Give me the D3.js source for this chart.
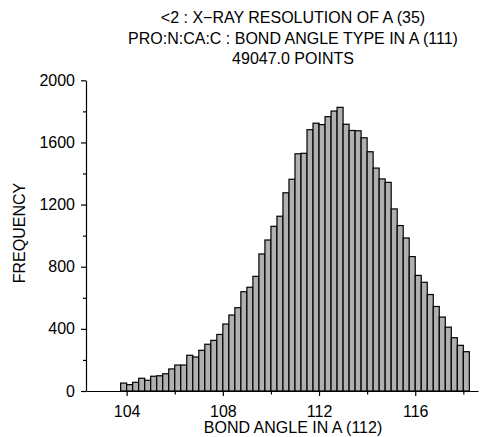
<!DOCTYPE html>
<html><head><meta charset="utf-8">
<script src="https://cdn.jsdelivr.net/npm/d3@7"></script>
<style>body{margin:0;background:#fff}svg{display:block}</style>
</head><body><svg id="c" width="499" height="437"></svg>
<script>
const titleLines = ["<2 : X\u2212RAY RESOLUTION OF A (35)", "PRO:N:CA:C : BOND ANGLE TYPE IN A (111)", "49047.0 POINTS"];
const xLabel = "BOND ANGLE IN A (112)";
const yLabel = "FREQUENCY";
const binWidth = 0.25;
const binStarts = [103.75,104.0,104.25,104.5,104.75,105.0,105.25,105.5,105.75,106.0,
  106.25,106.5,106.75,107.0,107.25,107.5,107.75,108.0,108.25,108.5,
  108.75,109.0,109.25,109.5,109.75,110.0,110.25,110.5,110.75,111.0,
  111.25,111.5,111.75,112.0,112.25,112.5,112.75,113.0,113.25,113.5,
  113.75,114.0,114.25,114.5,114.75,115.0,115.25,115.5,115.75,116.0,
  116.25,116.5,116.75,117.0,117.25,117.5,117.75,118.0];
const counts = [51,41,56,82,69,95,98,111,142,167,
  167,230,219,262,301,326,364,431,489,536,
  639,668,738,882,972,1060,1125,1276,1363,1527,
  1530,1682,1724,1715,1766,1802,1826,1717,1677,1675,
  1630,1540,1435,1365,1343,1172,1065,985,865,744,
  700,621,544,476,411,343,294,253];
const xMajorTicks = [104,108,112,116];
const xMinorTicks = [106,110,114,118];
const yMajorTicks = [0,400,800,1200,1600,2000];
const yMinorTicks = [200,600,1000,1400,1800];

const FONT = "'Liberation Sans', Arial, Helvetica, sans-serif";
const FS = 16;
const svg = d3.select("#c");
const x = d3.scaleLinear().domain([102.31, 118.61]).range([86, 478]);
const y = d3.scaleLinear().domain([0, 2000]).range([391, 80.3]);

// bars
svg.append("g").selectAll("rect").data(counts).join("rect")
  .attr("x", (d,i) => x(binStarts[i]))
  .attr("width", (d,i) => x(binStarts[i] + binWidth) - x(binStarts[i]))
  .attr("y", d => y(d))
  .attr("height", d => y(0) - y(d))
  .attr("fill", "#b0b0b0")
  .attr("stroke", "#000")
  .attr("stroke-width", 1.2);

// x axis
const gx = svg.append("g").attr("transform", `translate(0,${y(0)})`);
gx.call(d3.axisBottom(x).tickValues(xMajorTicks).tickSize(5).tickSizeOuter(0).tickPadding(9.5).tickFormat(d3.format("d")));
gx.append("g").call(d3.axisBottom(x).tickValues(xMinorTicks).tickSize(3.5).tickSizeOuter(0).tickFormat(""))
  .select(".domain").remove();
// y axis
const gy = svg.append("g").attr("transform", `translate(${x.range()[0]},0)`);
gy.call(d3.axisLeft(y).tickValues(yMajorTicks).tickSize(5).tickSizeOuter(0).tickPadding(6).tickFormat(d3.format("d")));
gy.append("g").call(d3.axisLeft(y).tickValues(yMinorTicks).tickSize(3).tickSizeOuter(0).tickFormat(""))
  .select(".domain").remove();

svg.selectAll(".domain, .tick line").attr("stroke", "#000").attr("stroke-width", 1.2);
svg.selectAll(".tick text").attr("font-family", FONT).attr("font-size", FS).attr("fill", "#000");

// titles
const titleY = [23, 44, 64];
svg.append("g").selectAll("text").data(titleLines).join("text")
  .attr("x", 293).attr("y", (d,i) => titleY[i])
  .attr("text-anchor", "middle")
  .attr("font-family", FONT).attr("font-size", FS)
  .text(d => d);

svg.append("text").attr("x", 293).attr("y", 433).attr("text-anchor", "middle")
  .attr("font-family", FONT).attr("font-size", FS).text(xLabel);

svg.append("text").attr("transform", "translate(25,233) rotate(-90)").attr("text-anchor", "middle")
  .attr("font-family", FONT).attr("font-size", FS).text(yLabel);
</script></body></html>
